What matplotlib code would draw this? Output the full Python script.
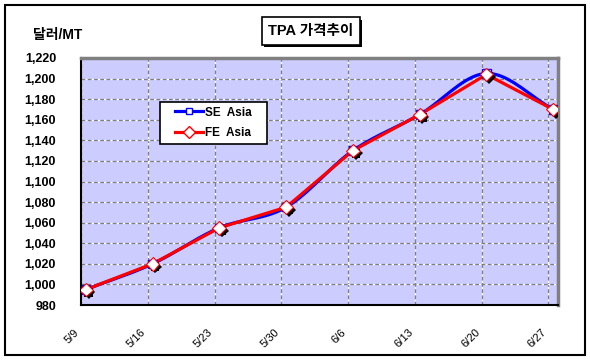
import numpy as np
import matplotlib
matplotlib.use("Agg")
import matplotlib.pyplot as plt
import matplotlib.patheffects as pe
from matplotlib.patches import Rectangle

plt.rcParams['font.family'] = ['Liberation Sans', 'Noto Sans CJK KR', 'DejaVu Sans']

# data
dates = ['5/9', '5/16', '5/23', '5/30', '6/6', '6/13', '6/20', '6/27']
se_asia = [995, 1020, 1055, 1075, 1130, 1165, 1205, 1170]
fe_asia = [995, 1020, 1055, 1075, 1130, 1165, 1204, 1170]
yticks = list(range(980, 1221, 20))

# date axis in days, points in the middle of their day
days = np.arange(len(dates)) * 7
xpos = days + 0.5


def smooth(x, y, n=20):
    # catmull-rom curve through the points
    x = np.asarray(x, float)
    y = np.asarray(y, float)
    px = np.concatenate([[2 * x[0] - x[1]], x, [2 * x[-1] - x[-2]]])
    py = np.concatenate([[2 * y[0] - y[1]], y, [2 * y[-1] - y[-2]]])
    xs, ys = [], []
    t = np.linspace(0, 1, n)
    for i in range(1, len(px) - 2):
        for p, out in ((px, xs), (py, ys)):
            p0, p1, p2, p3 = p[i - 1], p[i], p[i + 1], p[i + 2]
            out.append(0.5 * ((2 * p1) + (-p0 + p2) * t
                              + (2 * p0 - 5 * p1 + 4 * p2 - p3) * t ** 2
                              + (-p0 + 3 * p1 - 3 * p2 + p3) * t ** 3))
    return np.concatenate(xs), np.concatenate(ys)


fig = plt.figure(figsize=(5.9, 3.6), dpi=100)
fig.patches.append(Rectangle((5 / 590, 5 / 360), 580 / 590, 350 / 360,
                             transform=fig.transFigure, fill=False,
                             edgecolor='black', linewidth=1.5))

ax = fig.add_axes([81 / 590, 55 / 360, 477 / 590, 247 / 360])
ax.set_facecolor('#CCCCFF')
ax.set_xlim(0, 50)
ax.set_ylim(980, 1220)

ax.set_xticks(days)
ax.set_xticklabels(dates, rotation=45, ha='right', va='top', fontsize=8)
ax.set_yticks(yticks)
ax.set_yticklabels(['{:,}'.format(v) for v in yticks], fontsize=9, fontweight='bold')
ax.tick_params(axis='x', length=0, pad=16)
ax.tick_params(axis='y', length=0, pad=18)

ax.grid(True, color='#808080', linestyle=(0, (3, 2)), gapcolor='white', linewidth=0.9)
ax.set_axisbelow(True)

for side in ['left', 'bottom']:
    ax.spines[side].set_color('black')
    ax.spines[side].set_linewidth(1.5)
for side in ['top', 'right']:
    ax.spines[side].set_color('#808080')
    ax.spines[side].set_linewidth(2.5)

sx, sy = smooth(xpos, se_asia)
ax.plot(sx, sy, color='#0000FF', linewidth=2.3, zorder=3)
ax.plot(xpos, fe_asia, color='#FF0000', linewidth=2.3, zorder=4)

shadow = [pe.SimplePatchShadow(offset=(2, -2), shadow_rgbFace='black', alpha=1.0),
          pe.Normal()]
ax.plot(xpos, se_asia, linestyle='none', marker='s', markersize=6,
        markerfacecolor='white', markeredgecolor='#0000FF', markeredgewidth=1,
        zorder=5, path_effects=shadow)
ax.plot(xpos, fe_asia, linestyle='none', marker='D', markersize=7,
        markerfacecolor='white', markeredgecolor='#FF0000', markeredgewidth=0.8,
        zorder=6, path_effects=shadow)

# legend: own frame, entries centred inside it
lx0, ly0, lw, lh = 79 / 477, 1 - 86 / 247, 107 / 477, 42 / 247
ax.add_patch(Rectangle((lx0, ly0), lw, lh, transform=ax.transAxes,
                       facecolor='white', edgecolor='black', linewidth=1.2, zorder=7))
ax.plot([], [], color='#0000FF', linewidth=2.3, marker='s', markersize=5,
        markerfacecolor='white', markeredgecolor='#0000FF', label='SE  Asia')
ax.plot([], [], color='#FF0000', linewidth=2.3, marker='D', markersize=6,
        markerfacecolor='white', markeredgecolor='#FF0000', label='FE  Asia')
leg = ax.legend(loc='center', bbox_to_anchor=(lx0, ly0, lw, lh), frameon=False,
                prop={'size': 8.5, 'weight': 'bold'}, handlelength=2.3,
                borderpad=0, borderaxespad=0, labelspacing=0.75, handletextpad=0.2)
leg.set_zorder(8)

fig.text(33 / 590, 1 - 35 / 360, '달러/MT', fontsize=10, fontweight='bold',
         va='center', ha='left')
title = fig.text(311 / 590, 1 - 31 / 360, 'TPA 가격추이', fontsize=10.5, fontweight='bold',
                 va='center', ha='center',
                 bbox=dict(boxstyle='square,pad=0.45', facecolor='white',
                           edgecolor='black', linewidth=1.2))
title.get_bbox_patch().set_path_effects(
    [pe.SimplePatchShadow(offset=(1.5, -1.5), shadow_rgbFace='black', alpha=1.0),
     pe.Normal()])

fig.savefig('out.png', dpi=100)
